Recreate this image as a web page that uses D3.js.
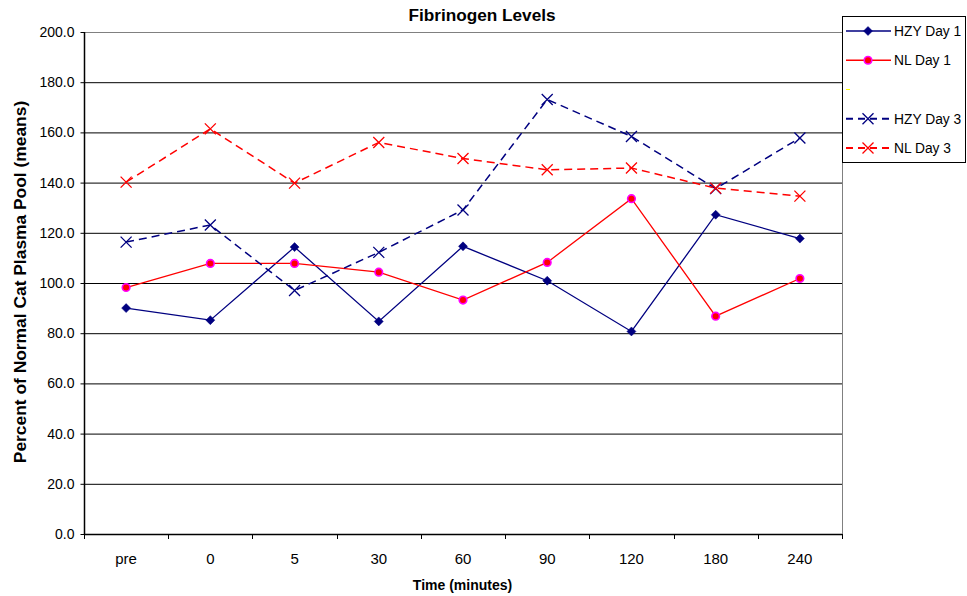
<!DOCTYPE html>
<html><head><meta charset="utf-8">
<script src="https://cdn.jsdelivr.net/npm/d3@7"></script>
<style>body{margin:0;background:#fff}svg{display:block;font-family:"Liberation Sans",Arial,sans-serif}</style>
</head><body>
<svg id="c" width="967" height="596"></svg>
<script>
const categories = ["pre","0","5","30","60","90","120","180","240"];
const hzyDay1 = [90.0,85.2,114.3,84.7,114.6,100.9,80.7,127.2,117.7];
const nlDay1  = [98.2,107.8,107.8,104.3,93.2,108.2,133.6,86.8,101.8];
const hzyDay3 = [116.3,123.1,97.0,112.2,129.1,173.1,158.4,137.6,157.8];
const nlDay3  = [140.2,161.4,139.8,156.0,149.6,145.1,145.8,137.8,134.6];
const yTicks = [0,20,40,60,80,100,120,140,160,180,200];

const series = [
  {name:"HZY Day 1", values:hzyDay1, color:"#000080", dash:null, marker:"diamond"},
  {name:"NL Day 1", values:nlDay1, color:"#FF0000", dash:null, marker:"circle"},
  {name:"", values:null, color:"#FFFF00", dash:null, marker:"none"},
  {name:"HZY Day 3", values:hzyDay3, color:"#000080", dash:"8,5", marker:"x"},
  {name:"NL Day 3", values:nlDay3, color:"#FF0000", dash:"8,5", marker:"x"}
];

const svg = d3.select("#c");
const L=84, R=842, T=32, B=534;
const x = d3.scaleBand().domain(categories).range([L,R]);
const y = d3.scaleLinear().domain([0,200]).range([B,T]);

// gridlines
svg.append("g").selectAll("line").data(yTicks.filter(d=>d>0)).join("line")
  .attr("x1",L).attr("x2",R).attr("y1",d=>y(d)+0.5).attr("y2",d=>y(d)+0.5)
  .attr("stroke",d=>d===200?"#808080":"#000").attr("stroke-width",1);
// right border
svg.append("line").attr("x1",R+0.5).attr("x2",R+0.5).attr("y1",T).attr("y2",B)
  .attr("stroke","#808080");

// y axis
const yAxis = svg.append("g").attr("transform",`translate(${L+0.5},0)`)
  .call(d3.axisLeft(y).tickValues(yTicks).tickFormat(d3.format(".1f")).tickSize(4).tickPadding(6));
yAxis.select(".domain").attr("stroke","#000").attr("stroke-width",1.5).attr("d",`M0,${T}V${B}`);
yAxis.selectAll(".tick line").attr("stroke","#000");
yAxis.selectAll("text").attr("font-size",14).attr("fill","#000").attr("font-family","Liberation Sans, Arial, sans-serif");

// x axis
const xAxis = svg.append("g").attr("transform",`translate(0,${B+0.5})`)
  .call(d3.axisBottom(x).tickSize(0).tickPadding(19));
xAxis.select(".domain").attr("stroke","#000").attr("stroke-width",1.5).attr("d",`M${L},0H${R}`);
xAxis.selectAll("text").attr("font-size",15).attr("fill","#000").attr("font-family","Liberation Sans, Arial, sans-serif");
// boundary ticks
const bounds = categories.map(c=>x(c)).concat([R]);
svg.append("g").selectAll("line").data(bounds).join("line")
  .attr("x1",d=>Math.round(d)+0.5).attr("x2",d=>Math.round(d)+0.5)
  .attr("y1",B).attr("y2",B+5).attr("stroke","#000");

const cx = c => x(c)+x.bandwidth()/2;

function drawMarker(g, type, color, px, py){
  if(type==="diamond"){
    g.append("path").attr("d",`M${px},${py-4.5}L${px+4.5},${py}L${px},${py+4.5}L${px-4.5},${py}Z`)
      .attr("fill",color).attr("stroke",color).attr("stroke-width",0.5);
  } else if(type==="circle"){
    g.append("circle").attr("cx",px).attr("cy",py).attr("r",3.8)
      .attr("fill","#FF0000").attr("stroke","#FF00FF").attr("stroke-width",1.6);
  } else if(type==="x"){
    const s=5.5;
    g.append("path").attr("d",`M${px-s},${py-s}L${px+s},${py+s}M${px-s},${py+s}L${px+s},${py-s}`)
      .attr("stroke",color).attr("stroke-width",1.3).attr("fill","none");
  }
}

const line = d3.line().x((d,i)=>cx(categories[i])).y(d=>y(d));
series.filter(s=>s.values).forEach(s=>{
  const g = svg.append("g");
  g.append("path").attr("d",line(s.values)).attr("fill","none")
    .attr("stroke",s.color).attr("stroke-width",s.dash?1.5:1.3)
    .attr("stroke-dasharray",s.dash);
  s.values.forEach((v,i)=>drawMarker(g,s.marker,s.color,cx(categories[i]),y(v)));
});

// legend
const lg = svg.append("g");
lg.append("rect").attr("x",842.5).attr("y",16.5).attr("width",123).attr("height",146)
  .attr("fill","#fff").attr("stroke","#000").attr("stroke-width",1);
const ly = d3.scalePoint().domain(d3.range(series.length)).range([31,148]);
series.forEach((s,i)=>{
  const yy = ly(i);
  if(s.marker==="none"){
    lg.append("line").attr("x1",846).attr("x2",850).attr("y1",yy).attr("y2",yy)
      .attr("stroke",s.color).attr("stroke-width",1);
    return;
  }
  lg.append("line").attr("x1",846).attr("x2",891).attr("y1",yy).attr("y2",yy)
    .attr("stroke",s.color).attr("stroke-width",s.dash?2:1.3).attr("stroke-dasharray",s.dash?"7,5":null);
  drawMarker(lg,s.marker,s.color,868,yy);
  lg.append("text").attr("x",894).attr("y",yy).attr("dy","0.35em")
    .attr("font-size",13.8).attr("fill","#000").text(s.name);
});

// titles
svg.append("text").attr("x",482).attr("y",21).attr("text-anchor","middle")
  .attr("font-size",17.2).attr("font-weight","bold").text("Fibrinogen Levels");
svg.append("text").attr("transform","translate(26,282) rotate(-90)").attr("text-anchor","middle")
  .attr("font-size",17.4).attr("font-weight","bold").text("Percent of Normal Cat Plasma Pool (means)");
svg.append("text").attr("x",462.5).attr("y",590).attr("text-anchor","middle")
  .attr("font-size",14).attr("font-weight","bold").text("Time (minutes)");
</script>
</body></html>
